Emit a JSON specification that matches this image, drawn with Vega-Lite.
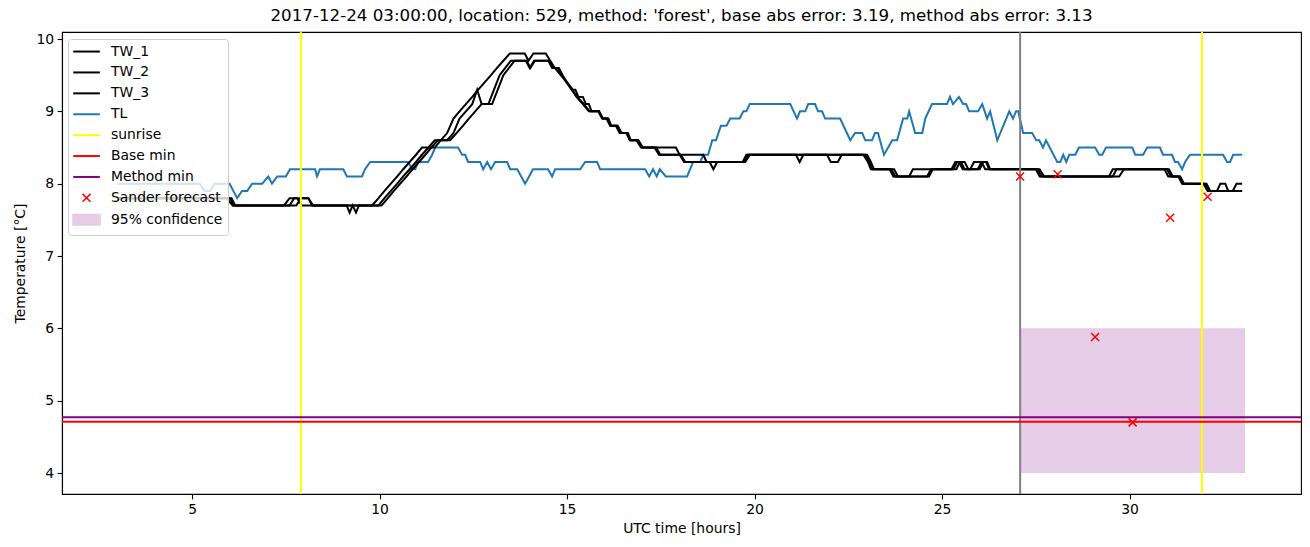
{
  "$schema": "https://vega.github.io/schema/vega-lite/v6.json",
  "width": 1239,
  "height": 462,
  "autosize": {"type": "none"},
  "padding": {"left": 62, "top": 32, "right": 9, "bottom": 53},
  "background": "white",
  "title": {"text": "2017-12-24 03:00:00, location: 529, method: 'forest', base abs error: 3.19, method abs error: 3.13", "font": "DejaVu Sans", "fontSize": 16.7, "fontWeight": "normal", "color": "black", "offset": 6},
  "config": {
    "font": "DejaVu Sans",
    "view": {"stroke": "black", "strokeWidth": 1.1},
    "axis": {"labelFont": "DejaVu Sans", "labelFontSize": 13.9, "titleFont": "DejaVu Sans", "titleFontSize": 13.9, "titleFontWeight": "normal", "labelColor": "black", "titleColor": "black", "tickColor": "black", "domainColor": "black", "tickSize": 4.9, "tickWidth": 1.1, "domainWidth": 1.1, "labelPadding": 3.5, "grid": false}
  },
  "datasets": {
    "ts": [
      {"t":3.0,"v":8.0,"series":"TL"},{"t":5.2,"v":8.0,"series":"TL"},{"t":5.33,"v":7.9,"series":"TL"},{"t":5.48,"v":7.9,"series":"TL"},{"t":5.6,"v":8.0,"series":"TL"},{"t":6.0,"v":8.0,"series":"TL"},{"t":6.2,"v":7.8,"series":"TL"},{"t":6.33,"v":7.9,"series":"TL"},{"t":6.47,"v":7.9,"series":"TL"},{"t":6.6,"v":8.0,"series":"TL"},{"t":6.87,"v":8.0,"series":"TL"},{"t":7.03,"v":8.1,"series":"TL"},{"t":7.13,"v":8.0,"series":"TL"},{"t":7.27,"v":8.1,"series":"TL"},{"t":7.5,"v":8.1,"series":"TL"},{"t":7.61,"v":8.2,"series":"TL"},{"t":8.28,"v":8.2,"series":"TL"},{"t":8.33,"v":8.1,"series":"TL"},{"t":8.41,"v":8.2,"series":"TL"},{"t":9.03,"v":8.2,"series":"TL"},{"t":9.13,"v":8.1,"series":"TL"},{"t":9.53,"v":8.1,"series":"TL"},{"t":9.61,"v":8.2,"series":"TL"},{"t":9.75,"v":8.3,"series":"TL"},{"t":10.76,"v":8.3,"series":"TL"},{"t":10.87,"v":8.2,"series":"TL"},{"t":10.95,"v":8.2,"series":"TL"},{"t":11.03,"v":8.3,"series":"TL"},{"t":11.29,"v":8.3,"series":"TL"},{"t":11.4,"v":8.4,"series":"TL"},{"t":11.48,"v":8.5,"series":"TL"},{"t":12.09,"v":8.5,"series":"TL"},{"t":12.2,"v":8.4,"series":"TL"},{"t":12.28,"v":8.4,"series":"TL"},{"t":12.36,"v":8.3,"series":"TL"},{"t":12.68,"v":8.3,"series":"TL"},{"t":12.76,"v":8.2,"series":"TL"},{"t":12.87,"v":8.3,"series":"TL"},{"t":12.97,"v":8.2,"series":"TL"},{"t":13.08,"v":8.3,"series":"TL"},{"t":13.4,"v":8.3,"series":"TL"},{"t":13.48,"v":8.2,"series":"TL"},{"t":13.67,"v":8.2,"series":"TL"},{"t":13.88,"v":8.0,"series":"TL"},{"t":14.09,"v":8.2,"series":"TL"},{"t":14.49,"v":8.2,"series":"TL"},{"t":14.6,"v":8.1,"series":"TL"},{"t":14.68,"v":8.2,"series":"TL"},{"t":15.35,"v":8.2,"series":"TL"},{"t":15.48,"v":8.3,"series":"TL"},{"t":15.8,"v":8.3,"series":"TL"},{"t":15.88,"v":8.2,"series":"TL"},{"t":17.08,"v":8.2,"series":"TL"},{"t":17.19,"v":8.1,"series":"TL"},{"t":17.29,"v":8.2,"series":"TL"},{"t":17.39,"v":8.1,"series":"TL"},{"t":17.47,"v":8.2,"series":"TL"},{"t":17.63,"v":8.1,"series":"TL"},{"t":18.2,"v":8.1,"series":"TL"},{"t":18.36,"v":8.3,"series":"TL"},{"t":18.55,"v":8.3,"series":"TL"},{"t":18.63,"v":8.4,"series":"TL"},{"t":18.76,"v":8.4,"series":"TL"},{"t":18.87,"v":8.6,"series":"TL"},{"t":18.97,"v":8.6,"series":"TL"},{"t":19.1,"v":8.8,"series":"TL"},{"t":19.25,"v":8.8,"series":"TL"},{"t":19.35,"v":8.9,"series":"TL"},{"t":19.6,"v":8.9,"series":"TL"},{"t":19.7,"v":9.0,"series":"TL"},{"t":19.78,"v":9.0,"series":"TL"},{"t":19.87,"v":9.1,"series":"TL"},{"t":20.95,"v":9.1,"series":"TL"},{"t":21.13,"v":8.9,"series":"TL"},{"t":21.21,"v":9.0,"series":"TL"},{"t":21.35,"v":9.0,"series":"TL"},{"t":21.43,"v":9.1,"series":"TL"},{"t":21.61,"v":9.1,"series":"TL"},{"t":21.69,"v":9.0,"series":"TL"},{"t":21.8,"v":9.0,"series":"TL"},{"t":21.88,"v":8.9,"series":"TL"},{"t":22.28,"v":8.9,"series":"TL"},{"t":22.55,"v":8.6,"series":"TL"},{"t":22.68,"v":8.7,"series":"TL"},{"t":22.87,"v":8.7,"series":"TL"},{"t":22.95,"v":8.6,"series":"TL"},{"t":23.13,"v":8.6,"series":"TL"},{"t":23.21,"v":8.7,"series":"TL"},{"t":23.29,"v":8.7,"series":"TL"},{"t":23.45,"v":8.4,"series":"TL"},{"t":23.67,"v":8.6,"series":"TL"},{"t":23.8,"v":8.6,"series":"TL"},{"t":23.96,"v":8.9,"series":"TL"},{"t":24.07,"v":8.9,"series":"TL"},{"t":24.12,"v":9.0,"series":"TL"},{"t":24.28,"v":8.7,"series":"TL"},{"t":24.47,"v":8.7,"series":"TL"},{"t":24.55,"v":8.9,"series":"TL"},{"t":24.73,"v":9.1,"series":"TL"},{"t":25.13,"v":9.1,"series":"TL"},{"t":25.21,"v":9.2,"series":"TL"},{"t":25.29,"v":9.1,"series":"TL"},{"t":25.45,"v":9.2,"series":"TL"},{"t":25.56,"v":9.1,"series":"TL"},{"t":25.64,"v":9.1,"series":"TL"},{"t":25.72,"v":9.0,"series":"TL"},{"t":25.96,"v":9.0,"series":"TL"},{"t":26.07,"v":9.1,"series":"TL"},{"t":26.2,"v":8.9,"series":"TL"},{"t":26.28,"v":9.0,"series":"TL"},{"t":26.47,"v":8.6,"series":"TL"},{"t":26.63,"v":8.8,"series":"TL"},{"t":26.79,"v":9.0,"series":"TL"},{"t":26.89,"v":8.9,"series":"TL"},{"t":26.97,"v":9.0,"series":"TL"},{"t":27.03,"v":9.0,"series":"TL"},{"t":27.16,"v":8.7,"series":"TL"},{"t":27.4,"v":8.7,"series":"TL"},{"t":27.51,"v":8.6,"series":"TL"},{"t":27.59,"v":8.6,"series":"TL"},{"t":27.69,"v":8.5,"series":"TL"},{"t":27.77,"v":8.6,"series":"TL"},{"t":28.07,"v":8.3,"series":"TL"},{"t":28.15,"v":8.3,"series":"TL"},{"t":28.23,"v":8.4,"series":"TL"},{"t":28.31,"v":8.3,"series":"TL"},{"t":28.39,"v":8.4,"series":"TL"},{"t":28.55,"v":8.4,"series":"TL"},{"t":28.65,"v":8.5,"series":"TL"},{"t":29.08,"v":8.5,"series":"TL"},{"t":29.19,"v":8.4,"series":"TL"},{"t":29.27,"v":8.4,"series":"TL"},{"t":29.37,"v":8.5,"series":"TL"},{"t":30.07,"v":8.5,"series":"TL"},{"t":30.15,"v":8.4,"series":"TL"},{"t":30.36,"v":8.4,"series":"TL"},{"t":30.47,"v":8.5,"series":"TL"},{"t":30.81,"v":8.5,"series":"TL"},{"t":30.89,"v":8.4,"series":"TL"},{"t":31.13,"v":8.4,"series":"TL"},{"t":31.21,"v":8.3,"series":"TL"},{"t":31.29,"v":8.3,"series":"TL"},{"t":31.4,"v":8.2,"series":"TL"},{"t":31.48,"v":8.3,"series":"TL"},{"t":31.61,"v":8.4,"series":"TL"},{"t":32.49,"v":8.4,"series":"TL"},{"t":32.6,"v":8.3,"series":"TL"},{"t":32.68,"v":8.3,"series":"TL"},{"t":32.76,"v":8.4,"series":"TL"},{"t":33.0,"v":8.4,"series":"TL"},

      {"t":3.0,"v":7.8,"series":"TW_1"},{"t":5.92,"v":7.8,"series":"TW_1"},{"t":6.08,"v":7.7,"series":"TW_1"},{"t":7.45,"v":7.7,"series":"TW_1"},{"t":7.6,"v":7.8,"series":"TW_1"},{"t":7.8,"v":7.8,"series":"TW_1"},{"t":7.92,"v":7.7,"series":"TW_1"},{"t":9.8,"v":7.7,"series":"TW_1"},{"t":9.97,"v":7.8,"series":"TW_1"},{"t":10.13,"v":7.9,"series":"TW_1"},{"t":10.3,"v":8.0,"series":"TW_1"},{"t":10.47,"v":8.1,"series":"TW_1"},{"t":10.63,"v":8.2,"series":"TW_1"},{"t":10.8,"v":8.3,"series":"TW_1"},{"t":10.97,"v":8.4,"series":"TW_1"},{"t":11.13,"v":8.5,"series":"TW_1"},{"t":11.47,"v":8.5,"series":"TW_1"},{"t":11.63,"v":8.6,"series":"TW_1"},{"t":11.8,"v":8.7,"series":"TW_1"},{"t":11.97,"v":8.9,"series":"TW_1"},{"t":12.13,"v":9.0,"series":"TW_1"},{"t":12.3,"v":9.1,"series":"TW_1"},{"t":12.47,"v":9.2,"series":"TW_1"},{"t":12.63,"v":9.3,"series":"TW_1"},{"t":12.8,"v":9.4,"series":"TW_1"},{"t":12.97,"v":9.5,"series":"TW_1"},{"t":13.13,"v":9.6,"series":"TW_1"},{"t":13.3,"v":9.7,"series":"TW_1"},{"t":13.47,"v":9.8,"series":"TW_1"},{"t":13.87,"v":9.8,"series":"TW_1"},{"t":13.97,"v":9.7,"series":"TW_1"},{"t":14.1,"v":9.8,"series":"TW_1"},{"t":14.43,"v":9.8,"series":"TW_1"},{"t":14.55,"v":9.7,"series":"TW_1"},{"t":14.67,"v":9.6,"series":"TW_1"},{"t":14.83,"v":9.5,"series":"TW_1"},{"t":15.0,"v":9.4,"series":"TW_1"},{"t":15.13,"v":9.3,"series":"TW_1"},{"t":15.27,"v":9.2,"series":"TW_1"},{"t":15.45,"v":9.1,"series":"TW_1"},{"t":15.6,"v":9.0,"series":"TW_1"},{"t":15.83,"v":9.0,"series":"TW_1"},{"t":15.93,"v":8.9,"series":"TW_1"},{"t":16.07,"v":8.9,"series":"TW_1"},{"t":16.15,"v":8.8,"series":"TW_1"},{"t":16.33,"v":8.8,"series":"TW_1"},{"t":16.41,"v":8.7,"series":"TW_1"},{"t":16.6,"v":8.7,"series":"TW_1"},{"t":16.68,"v":8.6,"series":"TW_1"},{"t":16.89,"v":8.6,"series":"TW_1"},{"t":17.0,"v":8.5,"series":"TW_1"},{"t":17.33,"v":8.5,"series":"TW_1"},{"t":17.45,"v":8.4,"series":"TW_1"},{"t":18.0,"v":8.4,"series":"TW_1"},{"t":18.12,"v":8.3,"series":"TW_1"},{"t":19.68,"v":8.3,"series":"TW_1"},{"t":19.78,"v":8.4,"series":"TW_1"},{"t":22.9,"v":8.4,"series":"TW_1"},{"t":23.02,"v":8.3,"series":"TW_1"},{"t":23.1,"v":8.2,"series":"TW_1"},{"t":23.6,"v":8.2,"series":"TW_1"},{"t":23.7,"v":8.1,"series":"TW_1"},{"t":24.12,"v":8.1,"series":"TW_1"},{"t":24.22,"v":8.2,"series":"TW_1"},{"t":25.25,"v":8.2,"series":"TW_1"},{"t":25.35,"v":8.3,"series":"TW_1"},{"t":25.45,"v":8.3,"series":"TW_1"},{"t":25.55,"v":8.2,"series":"TW_1"},{"t":25.75,"v":8.2,"series":"TW_1"},{"t":25.85,"v":8.3,"series":"TW_1"},{"t":26.05,"v":8.3,"series":"TW_1"},{"t":26.15,"v":8.2,"series":"TW_1"},{"t":27.5,"v":8.2,"series":"TW_1"},{"t":27.6,"v":8.1,"series":"TW_1"},{"t":29.45,"v":8.1,"series":"TW_1"},{"t":29.55,"v":8.2,"series":"TW_1"},{"t":30.93,"v":8.2,"series":"TW_1"},{"t":31.03,"v":8.1,"series":"TW_1"},{"t":31.3,"v":8.1,"series":"TW_1"},{"t":31.4,"v":8.0,"series":"TW_1"},{"t":31.97,"v":8.0,"series":"TW_1"},{"t":32.08,"v":7.9,"series":"TW_1"},{"t":32.33,"v":7.9,"series":"TW_1"},{"t":32.42,"v":8.0,"series":"TW_1"},{"t":32.55,"v":8.0,"series":"TW_1"},{"t":32.63,"v":7.9,"series":"TW_1"},{"t":33.0,"v":7.9,"series":"TW_1"},

      {"t":3.0,"v":7.8,"series":"TW_2"},{"t":6.0,"v":7.8,"series":"TW_2"},{"t":6.1,"v":7.7,"series":"TW_2"},{"t":7.6,"v":7.7,"series":"TW_2"},{"t":7.72,"v":7.8,"series":"TW_2"},{"t":8.1,"v":7.8,"series":"TW_2"},{"t":8.22,"v":7.7,"series":"TW_2"},{"t":9.12,"v":7.7,"series":"TW_2"},{"t":9.2,"v":7.6,"series":"TW_2"},{"t":9.28,"v":7.7,"series":"TW_2"},{"t":9.37,"v":7.6,"series":"TW_2"},{"t":9.45,"v":7.7,"series":"TW_2"},{"t":9.97,"v":7.7,"series":"TW_2"},{"t":10.13,"v":7.8,"series":"TW_2"},{"t":10.3,"v":7.9,"series":"TW_2"},{"t":10.47,"v":8.0,"series":"TW_2"},{"t":10.63,"v":8.1,"series":"TW_2"},{"t":10.8,"v":8.2,"series":"TW_2"},{"t":10.97,"v":8.3,"series":"TW_2"},{"t":11.13,"v":8.4,"series":"TW_2"},{"t":11.3,"v":8.5,"series":"TW_2"},{"t":11.47,"v":8.6,"series":"TW_2"},{"t":11.8,"v":8.6,"series":"TW_2"},{"t":11.97,"v":8.7,"series":"TW_2"},{"t":12.13,"v":8.9,"series":"TW_2"},{"t":12.3,"v":9.0,"series":"TW_2"},{"t":12.47,"v":9.1,"series":"TW_2"},{"t":12.6,"v":9.3,"series":"TW_2"},{"t":12.72,"v":9.1,"series":"TW_2"},{"t":12.9,"v":9.1,"series":"TW_2"},{"t":13.05,"v":9.3,"series":"TW_2"},{"t":13.2,"v":9.5,"series":"TW_2"},{"t":13.35,"v":9.6,"series":"TW_2"},{"t":13.5,"v":9.7,"series":"TW_2"},{"t":13.9,"v":9.7,"series":"TW_2"},{"t":14.0,"v":9.6,"series":"TW_2"},{"t":14.12,"v":9.7,"series":"TW_2"},{"t":14.5,"v":9.7,"series":"TW_2"},{"t":14.6,"v":9.6,"series":"TW_2"},{"t":14.78,"v":9.6,"series":"TW_2"},{"t":14.88,"v":9.5,"series":"TW_2"},{"t":15.0,"v":9.4,"series":"TW_2"},{"t":15.15,"v":9.3,"series":"TW_2"},{"t":15.22,"v":9.3,"series":"TW_2"},{"t":15.3,"v":9.2,"series":"TW_2"},{"t":15.42,"v":9.2,"series":"TW_2"},{"t":15.5,"v":9.1,"series":"TW_2"},{"t":15.58,"v":9.1,"series":"TW_2"},{"t":15.65,"v":9.0,"series":"TW_2"},{"t":15.85,"v":9.0,"series":"TW_2"},{"t":15.95,"v":8.9,"series":"TW_2"},{"t":16.1,"v":8.9,"series":"TW_2"},{"t":16.18,"v":8.8,"series":"TW_2"},{"t":16.35,"v":8.8,"series":"TW_2"},{"t":16.45,"v":8.7,"series":"TW_2"},{"t":16.62,"v":8.7,"series":"TW_2"},{"t":16.7,"v":8.6,"series":"TW_2"},{"t":16.9,"v":8.6,"series":"TW_2"},{"t":17.02,"v":8.5,"series":"TW_2"},{"t":17.9,"v":8.5,"series":"TW_2"},{"t":18.0,"v":8.4,"series":"TW_2"},{"t":18.63,"v":8.4,"series":"TW_2"},{"t":18.72,"v":8.3,"series":"TW_2"},{"t":19.72,"v":8.3,"series":"TW_2"},{"t":19.82,"v":8.4,"series":"TW_2"},{"t":21.93,"v":8.4,"series":"TW_2"},{"t":22.03,"v":8.3,"series":"TW_2"},{"t":22.22,"v":8.3,"series":"TW_2"},{"t":22.32,"v":8.4,"series":"TW_2"},{"t":22.95,"v":8.4,"series":"TW_2"},{"t":23.05,"v":8.3,"series":"TW_2"},{"t":23.13,"v":8.2,"series":"TW_2"},{"t":23.65,"v":8.2,"series":"TW_2"},{"t":23.75,"v":8.1,"series":"TW_2"},{"t":24.6,"v":8.1,"series":"TW_2"},{"t":24.7,"v":8.2,"series":"TW_2"},{"t":25.3,"v":8.2,"series":"TW_2"},{"t":25.4,"v":8.3,"series":"TW_2"},{"t":25.5,"v":8.3,"series":"TW_2"},{"t":25.6,"v":8.2,"series":"TW_2"},{"t":25.95,"v":8.2,"series":"TW_2"},{"t":26.05,"v":8.3,"series":"TW_2"},{"t":26.2,"v":8.3,"series":"TW_2"},{"t":26.28,"v":8.2,"series":"TW_2"},{"t":27.55,"v":8.2,"series":"TW_2"},{"t":27.65,"v":8.1,"series":"TW_2"},{"t":29.55,"v":8.1,"series":"TW_2"},{"t":29.65,"v":8.2,"series":"TW_2"},{"t":31.0,"v":8.2,"series":"TW_2"},{"t":31.1,"v":8.1,"series":"TW_2"},{"t":31.33,"v":8.1,"series":"TW_2"},{"t":31.42,"v":8.0,"series":"TW_2"},{"t":32.05,"v":8.0,"series":"TW_2"},{"t":32.15,"v":7.9,"series":"TW_2"},{"t":32.75,"v":7.9,"series":"TW_2"},{"t":32.85,"v":8.0,"series":"TW_2"},{"t":33.0,"v":8.0,"series":"TW_2"},

      {"t":3.0,"v":7.8,"series":"TW_3"},{"t":6.05,"v":7.8,"series":"TW_3"},{"t":6.15,"v":7.7,"series":"TW_3"},{"t":7.78,"v":7.7,"series":"TW_3"},{"t":7.9,"v":7.8,"series":"TW_3"},{"t":8.1,"v":7.8,"series":"TW_3"},{"t":8.2,"v":7.7,"series":"TW_3"},{"t":10.05,"v":7.7,"series":"TW_3"},{"t":10.22,"v":7.8,"series":"TW_3"},{"t":10.38,"v":7.9,"series":"TW_3"},{"t":10.55,"v":8.0,"series":"TW_3"},{"t":10.72,"v":8.1,"series":"TW_3"},{"t":10.88,"v":8.2,"series":"TW_3"},{"t":11.05,"v":8.3,"series":"TW_3"},{"t":11.22,"v":8.4,"series":"TW_3"},{"t":11.38,"v":8.5,"series":"TW_3"},{"t":11.55,"v":8.6,"series":"TW_3"},{"t":11.88,"v":8.6,"series":"TW_3"},{"t":12.05,"v":8.7,"series":"TW_3"},{"t":12.22,"v":8.8,"series":"TW_3"},{"t":12.38,"v":8.9,"series":"TW_3"},{"t":12.55,"v":9.0,"series":"TW_3"},{"t":12.72,"v":9.1,"series":"TW_3"},{"t":13.0,"v":9.1,"series":"TW_3"},{"t":13.15,"v":9.3,"series":"TW_3"},{"t":13.3,"v":9.5,"series":"TW_3"},{"t":13.45,"v":9.6,"series":"TW_3"},{"t":13.6,"v":9.7,"series":"TW_3"},{"t":13.92,"v":9.7,"series":"TW_3"},{"t":14.02,"v":9.6,"series":"TW_3"},{"t":14.14,"v":9.7,"series":"TW_3"},{"t":14.52,"v":9.7,"series":"TW_3"},{"t":14.62,"v":9.6,"series":"TW_3"},{"t":14.75,"v":9.6,"series":"TW_3"},{"t":14.85,"v":9.5,"series":"TW_3"},{"t":14.98,"v":9.4,"series":"TW_3"},{"t":15.12,"v":9.3,"series":"TW_3"},{"t":15.25,"v":9.2,"series":"TW_3"},{"t":15.42,"v":9.1,"series":"TW_3"},{"t":15.58,"v":9.0,"series":"TW_3"},{"t":15.85,"v":9.0,"series":"TW_3"},{"t":15.95,"v":8.9,"series":"TW_3"},{"t":16.05,"v":8.9,"series":"TW_3"},{"t":16.15,"v":8.8,"series":"TW_3"},{"t":16.3,"v":8.8,"series":"TW_3"},{"t":16.4,"v":8.7,"series":"TW_3"},{"t":16.58,"v":8.7,"series":"TW_3"},{"t":16.67,"v":8.6,"series":"TW_3"},{"t":16.85,"v":8.6,"series":"TW_3"},{"t":16.97,"v":8.5,"series":"TW_3"},{"t":17.38,"v":8.5,"series":"TW_3"},{"t":17.48,"v":8.4,"series":"TW_3"},{"t":18.03,"v":8.4,"series":"TW_3"},{"t":18.15,"v":8.3,"series":"TW_3"},{"t":18.8,"v":8.3,"series":"TW_3"},{"t":18.9,"v":8.2,"series":"TW_3"},{"t":19.0,"v":8.3,"series":"TW_3"},{"t":19.75,"v":8.3,"series":"TW_3"},{"t":19.87,"v":8.4,"series":"TW_3"},{"t":21.1,"v":8.4,"series":"TW_3"},{"t":21.2,"v":8.3,"series":"TW_3"},{"t":21.3,"v":8.4,"series":"TW_3"},{"t":23.0,"v":8.4,"series":"TW_3"},{"t":23.1,"v":8.3,"series":"TW_3"},{"t":23.18,"v":8.2,"series":"TW_3"},{"t":23.72,"v":8.2,"series":"TW_3"},{"t":23.82,"v":8.1,"series":"TW_3"},{"t":24.65,"v":8.1,"series":"TW_3"},{"t":24.75,"v":8.2,"series":"TW_3"},{"t":25.38,"v":8.2,"series":"TW_3"},{"t":25.47,"v":8.3,"series":"TW_3"},{"t":25.6,"v":8.3,"series":"TW_3"},{"t":25.7,"v":8.2,"series":"TW_3"},{"t":26.0,"v":8.2,"series":"TW_3"},{"t":26.1,"v":8.3,"series":"TW_3"},{"t":26.17,"v":8.3,"series":"TW_3"},{"t":26.25,"v":8.2,"series":"TW_3"},{"t":27.6,"v":8.2,"series":"TW_3"},{"t":27.72,"v":8.1,"series":"TW_3"},{"t":29.72,"v":8.1,"series":"TW_3"},{"t":29.85,"v":8.2,"series":"TW_3"},{"t":31.05,"v":8.2,"series":"TW_3"},{"t":31.15,"v":8.1,"series":"TW_3"},{"t":31.35,"v":8.1,"series":"TW_3"},{"t":31.45,"v":8.0,"series":"TW_3"},{"t":32.0,"v":8.0,"series":"TW_3"},{"t":32.1,"v":7.9,"series":"TW_3"},{"t":33.0,"v":7.9,"series":"TW_3"}
    ],
    "sunrise": [{"t": 7.9, "series": "sunrise"}, {"t": 31.93, "series": "sunrise"}],
    "now": [{"t": 27.08}],
    "mins": [{"v": 4.71, "series": "Base min"}, {"v": 4.77, "series": "Method min"}],
    "forecast": [
      {"t": 27.08, "v": 8.1, "series": "Sander forecast"},
      {"t": 28.08, "v": 8.13, "series": "Sander forecast"},
      {"t": 29.08, "v": 5.88, "series": "Sander forecast"},
      {"t": 30.08, "v": 4.7, "series": "Sander forecast"},
      {"t": 31.08, "v": 7.53, "series": "Sander forecast"},
      {"t": 32.08, "v": 7.82, "series": "Sander forecast"}
    ],
    "conf": [{"t0": 27.08, "t1": 33.08, "lo": 4.0, "hi": 6.0, "series": "95% confidence"}]
  },
  "encoding": {
    "x": {"type": "quantitative", "scale": {"domain": [1.53, 34.57], "nice": false, "zero": false}, "axis": {"title": "UTC time [hours]", "values": [5, 10, 15, 20, 25, 30], "format": "d", "titlePadding": 5}},
    "y": {"type": "quantitative", "scale": {"domain": [3.71, 10.097], "nice": false, "zero": false}, "axis": {"title": "Temperature [°C]", "values": [4, 5, 6, 7, 8, 9, 10], "format": "d", "titlePadding": 8}}
  },
  "layer": [
    {
      "data": {"name": "conf"},
      "mark": {"type": "rect"},
      "encoding": {
        "x": {"field": "t0", "type": "quantitative"},
        "x2": {"field": "t1"},
        "y": {"field": "lo", "type": "quantitative"},
        "y2": {"field": "hi"},
        "color": {"field": "series", "type": "nominal",
          "scale": {"domain": ["TW_1", "TW_2", "TW_3", "TL", "sunrise", "Base min", "Method min", "Sander forecast", "95% confidence"],
                    "range": ["#000000", "#000000", "#000000", "#1f77b4", "#ffff00", "#ff0000", "#800080", "#ff0000", "#e6cce6"]},
          "legend": {
            "title": null, "orient": "none", "legendX": 6, "legendY": 7,
            "labelFont": "DejaVu Sans", "labelFontSize": 13.9, "labelColor": "black",
            "symbolSize": 196, "rowPadding": 5.9, "symbolOffset": 6, "labelOffset": 17.5,
            "padding": 5.6, "fillColor": "rgba(255,255,255,0.8)", "strokeColor": "#cccccc", "cornerRadius": 3,
            "encode": {"symbols": {"update": {
              "shape": {"signal": "datum.value == 'Sander forecast' ? 'M-0.57,-0.57L0.57,0.57M-0.57,0.57L0.57,-0.57' : (datum.value == '95% confidence' ? 'M-1.9,-0.7H1.9V0.7H-1.9Z' : 'M-1.9,0H1.9')"},
              "stroke": {"signal": "datum.value == '95% confidence' ? 'transparent' : scale('color', datum.value)"},
              "fill": {"signal": "datum.value == '95% confidence' ? '#e6cce6' : 'transparent'"},
              "strokeWidth": {"signal": "datum.value == 'Sander forecast' ? 1.5 : 2"},
              "opacity": {"value": 1}
            }}}
          }
        }
      }
    },
    {
      "data": {"name": "ts"},
      "mark": {"type": "line", "strokeWidth": 2},
      "encoding": {
        "x": {"field": "t", "type": "quantitative"},
        "y": {"field": "v", "type": "quantitative"},
        "color": {"field": "series", "type": "nominal"}
      }
    },
    {
      "data": {"name": "sunrise"},
      "mark": {"type": "rule", "strokeWidth": 2},
      "encoding": {
        "x": {"field": "t", "type": "quantitative"},
        "color": {"field": "series", "type": "nominal"}
      }
    },
    {
      "data": {"name": "now"},
      "mark": {"type": "rule", "strokeWidth": 2, "color": "#808080"},
      "encoding": {
        "x": {"field": "t", "type": "quantitative"}
      }
    },
    {
      "data": {"name": "mins"},
      "mark": {"type": "rule", "strokeWidth": 2},
      "encoding": {
        "y": {"field": "v", "type": "quantitative"},
        "color": {"field": "series", "type": "nominal"}
      }
    },
    {
      "data": {"name": "forecast"},
      "mark": {"type": "point", "shape": "M-1,-1L1,1M-1,1L1,-1", "filled": false, "size": 64, "strokeWidth": 1.5, "opacity": 1},
      "encoding": {
        "x": {"field": "t", "type": "quantitative"},
        "y": {"field": "v", "type": "quantitative"},
        "color": {"field": "series", "type": "nominal"}
      }
    }
  ]
}
